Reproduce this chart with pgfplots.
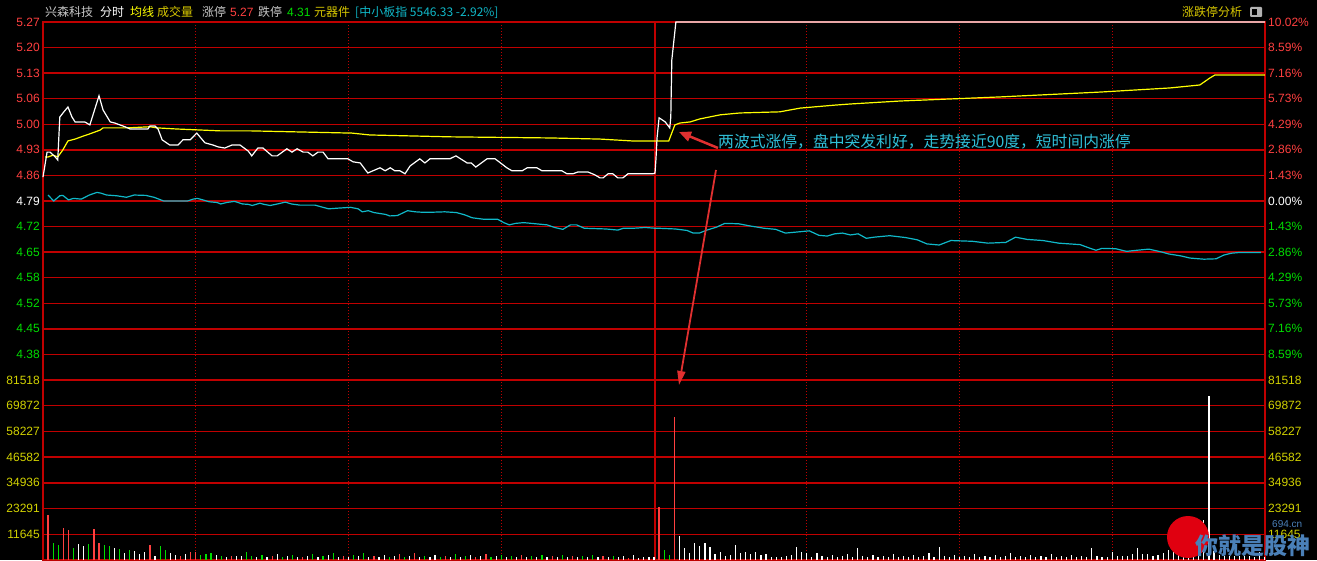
\documentclass[border=0pt]{standalone}
\usepackage{fontspec}
\setmainfont{Noto Sans CJK SC}
\newfontfamily\numfont{Liberation Sans}
\usepackage{pgfplots}
\pgfplotsset{compat=1.18}
\usetikzlibrary{arrows.meta}

\definecolor{bg}{HTML}{000000}
\definecolor{gridred}{HTML}{C00000}
\definecolor{ured}{HTML}{FF4040}
\definecolor{dgreen}{HTML}{00DC00}
\definecolor{vyellow}{HTML}{D2D200}
\definecolor{avgyellow}{HTML}{FFFF00}
\definecolor{idxcyan}{HTML}{10B8C8}
\definecolor{notecyan}{HTML}{30C0D8}
\definecolor{arrowred}{HTML}{E03030}
\definecolor{hdgray}{HTML}{C8C8C8}
\definecolor{hdgold}{HTML}{D8C800}
\definecolor{wmblue}{HTML}{4A80B8}
\definecolor{wmred}{HTML}{E00010}

\newcommand{\tk}{\fontsize{12}{12}\selectfont}

\begin{document}
\begin{tikzpicture}[x=1pt,y=1pt]
\useasboundingbox (0,0) rectangle (1317,560);
\fill[bg] (0,0) rectangle (1317,560);

% header line
\begin{scope}[every node/.style={anchor=west, inner sep=0pt, font=\tk}]
\node[text=hdgray] at (45,548) {兴森科技};
\node[text=white] at (100,548) {分时};
\node[text=avgyellow] at (130,548) {均线};
\node[text=hdgold] at (157,548) {成交量};
\node[text=hdgray] at (202,548) {涨停};
\node[text=ured] at (230,548) {\numfont 5.27};
\node[text=hdgray] at (258,548) {跌停};
\node[text=dgreen] at (287,548) {\numfont 4.31};
\node[text=hdgold] at (314,548) {元器件};
\node[text=idxcyan] at (355,548) {[中小板指 5546.33 -2.92\%]};
\node[text=hdgold] at (1182,548) {涨跌停分析};
\end{scope}
\fill[gray!60, rounded corners=1pt] (1250,553) rectangle (1262,543);
\fill[black] (1252,551) rectangle (1257,545);

% price panel
\begin{axis}[
  at={(43pt,180pt)}, anchor=south west,
  width=1222pt, height=358pt, scale only axis,
  xmin=0, xmax=240, ymin=4.31015, ymax=5.26985,
  axis line style={gridred, line width=1.4pt},
  xtick=\empty,
  ytick={4.31015,4.3787,4.44725,4.5158,4.58435,4.6529,4.72145,4.79,4.85855,4.9271,4.99565,5.0642,5.13275,5.2013,5.26985},
  yticklabels={{},\textcolor{dgreen}{4.38},\textcolor{dgreen}{4.45},\textcolor{dgreen}{4.52},\textcolor{dgreen}{4.58},\textcolor{dgreen}{4.65},\textcolor{dgreen}{4.72},\textcolor{white}{4.79},\textcolor{ured}{4.86},\textcolor{ured}{4.93},\textcolor{ured}{5.00},\textcolor{ured}{5.06},\textcolor{ured}{5.13},\textcolor{ured}{5.20},\textcolor{ured}{5.27}},
  yticklabel style={font=\numfont\tk, inner sep=0pt, xshift=-3pt},
  major tick length=0pt,
  ymajorgrids, grid style={gridred, line width=1.4pt},
  clip=false,
]
\draw[gridred, line width=2.6pt] (axis cs:0,4.79) -- (axis cs:240,4.79);
\draw[gridred, line width=1.4pt] (axis cs:120.2,4.31015) -- (axis cs:120.2,5.26985);
\draw[gridred, line width=1pt, dash pattern=on 1pt off 2pt] (axis cs:30,4.31015) -- (axis cs:30,5.26985);
\draw[gridred, line width=1pt, dash pattern=on 1pt off 2pt] (axis cs:60,4.31015) -- (axis cs:60,5.26985);
\draw[gridred, line width=1pt, dash pattern=on 1pt off 2pt] (axis cs:90,4.31015) -- (axis cs:90,5.26985);
\draw[gridred, line width=1pt, dash pattern=on 1pt off 2pt] (axis cs:150,4.31015) -- (axis cs:150,5.26985);
\draw[gridred, line width=1pt, dash pattern=on 1pt off 2pt] (axis cs:180,4.31015) -- (axis cs:180,5.26985);
\draw[gridred, line width=1pt, dash pattern=on 1pt off 2pt] (axis cs:210,4.31015) -- (axis cs:210,5.26985);

% index (cyan)
\addplot[idxcyan, line width=1.2pt, mark=none] coordinates {
(1.0,4.806) (2.1,4.790) (3.3,4.804) (3.9,4.805) (5.0,4.793) (6.0,4.797) (7.5,4.795) (9.1,4.806) (10.6,4.813) (11.4,4.811) (12.5,4.806) (14.5,4.804) (16.4,4.800) (17.9,4.806) (20.2,4.805) (21.8,4.800) (23.7,4.790) (28.4,4.790) (29.5,4.795) (30.3,4.797) (31.4,4.793) (32.6,4.788) (34.2,4.786) (34.9,4.782) (36.1,4.786) (37.6,4.789) (39.2,4.782) (40.3,4.781) (41.1,4.778) (42.6,4.784) (43.4,4.781) (44.6,4.778) (45.7,4.781) (47.6,4.787) (48.8,4.782) (50.4,4.779) (53.4,4.779) (55.0,4.773) (56.1,4.769) (58.1,4.771) (60.4,4.773) (61.9,4.769) (62.7,4.761) (63.9,4.764) (65.0,4.759) (67.3,4.754) (68.1,4.750) (69.6,4.751) (71.6,4.764) (73.1,4.761) (74.3,4.760) (76.6,4.760) (78.9,4.761) (81.2,4.759) (82.8,4.753) (84.3,4.745) (86.6,4.741) (89.3,4.741) (90.5,4.732) (91.6,4.726) (92.8,4.730) (94.4,4.732) (96.7,4.729) (99.0,4.726) (100.5,4.719) (102.1,4.714) (103.6,4.726) (104.8,4.726) (106.3,4.717) (110.6,4.715) (112.9,4.712) (114.0,4.717) (116.0,4.717) (118.3,4.719) (120.2,4.717) (120.8,4.717) (124.2,4.715) (126.5,4.711) (127.7,4.704) (128.9,4.704) (130.4,4.712) (132.3,4.720) (133.9,4.730) (136.6,4.729) (138.9,4.723) (141.6,4.717) (143.9,4.714) (145.8,4.704) (148.2,4.707) (150.5,4.710) (152.4,4.698) (154.0,4.696) (155.5,4.702) (157.0,4.704) (158.6,4.699) (160.1,4.702) (161.7,4.690) (163.2,4.693) (166.3,4.697) (169.4,4.692) (171.7,4.686) (173.6,4.675) (176.0,4.672) (178.3,4.684) (182.5,4.682) (185.6,4.677) (189.1,4.679) (191.0,4.693) (193.3,4.687) (196.4,4.684) (199.5,4.677) (203.7,4.673) (205.7,4.663) (206.8,4.658) (208.0,4.663) (210.7,4.662) (212.8,4.655) (214.9,4.658) (217.2,4.661) (219.5,4.654) (221.1,4.648) (223.4,4.643) (225.3,4.637) (228.0,4.634) (230.4,4.635) (231.9,4.645) (233.4,4.650) (235.0,4.652) (239.2,4.652)
};

% average price (yellow)
\addplot[avgyellow, line width=1.2pt, mark=none] coordinates {
(0.4,4.908) (1.0,4.908) (2.0,4.913) (2.9,4.908) (3.9,4.927) (4.9,4.951) (6.3,4.956) (7.9,4.964) (9.2,4.970) (11.2,4.980) (11.8,4.986) (16.5,4.986) (21.0,4.989) (22.4,4.986) (26.3,4.983) (34.8,4.978) (40.7,4.978) (60.7,4.972) (64.2,4.967) (79.9,4.962) (99.6,4.959) (109.4,4.956) (115.7,4.951) (122.9,4.951) (124.1,4.994) (125.1,4.999) (127.1,5.002) (129.0,5.010) (133.0,5.021) (136.9,5.026) (144.7,5.029) (148.7,5.039) (155.5,5.047) (158.5,5.050) (168.3,5.058) (188.0,5.069) (207.6,5.082) (221.3,5.093) (227.2,5.101) (229.2,5.120) (230.2,5.128) (240,5.128)
};

% price (white)
\addplot[white, line width=1.2pt, mark=none] coordinates {
(0,4.854) (0.8,4.921) (1.4,4.921) (2.4,4.908) (2.9,4.900) (3.3,5.015) (4.1,5.029) (4.9,5.042) (5.7,5.015) (6.3,5.002) (8.2,5.002) (9.2,4.994) (11.0,5.072) (11.8,5.034) (13.2,5.002) (14.1,4.999) (15.1,4.994) (16.1,4.989) (17.1,4.983) (20.6,4.983) (21.0,4.991) (22.0,4.991) (22.6,4.983) (23.4,4.954) (24.9,4.940) (26.5,4.940) (27.5,4.954) (28.9,4.954) (30.2,4.972) (31.8,4.946) (33.4,4.940) (34.4,4.935) (35.7,4.932) (37.1,4.940) (38.7,4.940) (40.3,4.924) (41.0,4.911) (42.2,4.932) (43.2,4.932) (45.0,4.911) (46.0,4.911) (47.9,4.930) (48.9,4.921) (49.9,4.930) (51.1,4.921) (52.0,4.921) (53.0,4.911) (54.0,4.921) (55.0,4.921) (56.0,4.903) (59.9,4.903) (60.9,4.895) (62.3,4.892) (63.8,4.865) (64.8,4.871) (66.2,4.879) (67.2,4.871) (68.2,4.879) (69.1,4.871) (70.1,4.871) (71.1,4.863) (72.1,4.884) (74.0,4.903) (75.0,4.892) (76.0,4.903) (79.9,4.903) (81.1,4.911) (83.3,4.892) (84.1,4.892) (85.0,4.881) (87.2,4.903) (88.8,4.903) (91.1,4.879) (92.1,4.871) (94.1,4.871) (95.1,4.879) (97.0,4.879) (98.0,4.871) (101.9,4.871) (102.9,4.863) (104.1,4.863) (105.1,4.868) (107.0,4.868) (108.4,4.860) (109.4,4.852) (110.0,4.852) (111.0,4.863) (111.9,4.863) (112.9,4.852) (113.9,4.852) (114.9,4.863) (119.8,4.863) (120.2,4.865) (120.4,4.905) (120.6,4.959) (121.0,5.013) (122.2,5.002) (123.1,4.986) (123.3,5.015) (123.5,5.168) (124.3,5.2698) (240,5.2698)
};
\end{axis}

% price panel, right-hand percent labels
\begin{axis}[
  at={(43pt,180pt)}, anchor=south west,
  width=1222pt, height=358pt, scale only axis,
  xmin=0, xmax=240, ymin=4.31015, ymax=5.26985,
  axis line style={draw=none},
  xtick=\empty, yticklabel pos=right,
  ytick={4.31015,4.3787,4.44725,4.5158,4.58435,4.6529,4.72145,4.79,4.85855,4.9271,4.99565,5.0642,5.13275,5.2013,5.26985},
  yticklabels={{},\textcolor{dgreen}{8.59\%},\textcolor{dgreen}{7.16\%},\textcolor{dgreen}{5.73\%},\textcolor{dgreen}{4.29\%},\textcolor{dgreen}{2.86\%},\textcolor{dgreen}{1.43\%},\textcolor{white}{0.00\%},\textcolor{ured}{1.43\%},\textcolor{ured}{2.86\%},\textcolor{ured}{4.29\%},\textcolor{ured}{5.73\%},\textcolor{ured}{7.16\%},\textcolor{ured}{8.59\%},\textcolor{ured}{10.02\%}},
  yticklabel style={font=\numfont\tk, inner sep=0pt, anchor=west, xshift=3pt},
  major tick length=0pt,
]
\addplot[draw=none] coordinates {(0,4.79)};
\end{axis}

% volume panel
\begin{axis}[
  at={(43pt,0pt)}, anchor=south west,
  width=1222pt, height=180pt, scale only axis,
  xmin=0, xmax=240, ymin=0, ymax=81518,
  axis line style={gridred, line width=1.4pt},
  xtick=\empty,
  ytick={0,11645.4,23290.9,34936.3,46581.7,58227.1,69872.6,81518},
  yticklabels={{},11645,23291,34936,46582,58227,69872,81518},
  scaled y ticks=false,
  yticklabel style={font=\numfont\tk, text=vyellow, inner sep=0pt, xshift=-3pt},
  major tick length=0pt,
  ymajorgrids, grid style={gridred, line width=1.4pt},
]
\draw[gridred, line width=2.6pt] (axis cs:0,81518) -- (axis cs:240,81518);
\draw[gridred, line width=1.4pt] (axis cs:120.2,0) -- (axis cs:120.2,81518);
\draw[gridred, line width=1pt, dash pattern=on 1pt off 2pt] (axis cs:30,0) -- (axis cs:30,81518);
\draw[gridred, line width=1pt, dash pattern=on 1pt off 2pt] (axis cs:60,0) -- (axis cs:60,81518);
\draw[gridred, line width=1pt, dash pattern=on 1pt off 2pt] (axis cs:90,0) -- (axis cs:90,81518);
\draw[gridred, line width=1pt, dash pattern=on 1pt off 2pt] (axis cs:150,0) -- (axis cs:150,81518);
\draw[gridred, line width=1pt, dash pattern=on 1pt off 2pt] (axis cs:180,0) -- (axis cs:180,81518);
\draw[gridred, line width=1pt, dash pattern=on 1pt off 2pt] (axis cs:210,0) -- (axis cs:210,81518);

% up minutes
\addplot[ycomb, ured, line width=1.2pt, mark=none] coordinates {
(1,20380) (4,14490) (5,13590) (10,14040) (11,7700) (21,6790) (27,1810) (29,3620) (30,3620) (37,1810) (45,1810) (51,1360) (59,1810) (65,1810) (70,2720) (73,3170) (79,1810) (85,1360) (87,2720) (94,2260) (100,1810) (104,1810) (110,1810) (115,910) (121,24000) (124,64760)
};
% down minutes
\addplot[ycomb, dgreen, line width=1.2pt, mark=none] coordinates {
(2,7700) (3,6790) (6,5430) (9,7250) (12,6790) (13,6340) (15,4980) (17,4530) (23,6340) (24,4530) (31,2260) (32,2720) (33,3170) (35,1810) (40,3620) (41,1810) (43,2260) (47,1360) (49,2260) (53,2720) (55,1810) (57,3170) (61,2260) (63,3170) (68,1360) (71,1360) (75,1810) (78,1360) (81,2720) (83,1810) (88,1360) (90,2260) (92,1810) (96,1810) (98,2260) (102,2260) (106,1810) (108,2260) (112,1810) (122,4530) (123,2260)
};
% flat minutes
\addplot[ycomb, white, line width=1.2pt, mark=none] coordinates {
(7,7250) (8,6340) (14,5430) (16,3170) (18,4080) (19,2720) (20,3620) (22,1810) (25,3170) (26,2260) (28,2720) (34,2260) (36,1360) (38,1810) (39,1810) (42,1360) (44,1360) (46,2720) (48,1810) (50,1360) (52,1810) (54,1360) (56,2260) (58,1360) (60,1360) (62,1810) (64,1360) (66,1360) (67,2260) (69,1810) (72,1810) (74,1360) (76,1360) (77,2260) (80,1360) (82,1360) (84,2260) (86,1810) (89,1810) (91,1360) (93,1360) (95,1360) (97,1360) (99,1360) (101,1360) (103,1360) (105,1360) (107,1360) (109,1360) (111,1360) (113,1360) (114,1810) (116,2260) (117,910) (118,1360) (119,1360) (120,1360)
(125,10870) (126,5430) (127,3170) (128,7700) (129,6340) (130,7700) (131,5890) (132,2720) (133,3620) (134,1810) (135,2260) (136,6790) (137,3170) (138,3620) (139,2720) (140,3620) (141,2260) (142,2720) (143,1360) (144,1360) (145,1360) (146,1810) (147,2260) (148,5890) (149,3620) (150,3170) (151,1360) (152,3170)
(153,1810) (154,1360) (155,2260) (156,1360) (157,1810) (158,2720) (159,1360) (160,5430) (161,1810) (162,1360) (163,2260) (164,1360) (165,1810) (166,1360) (167,2720) (168,1360) (169,1810) (170,1360) (171,2260) (172,1360) (173,1810) (174,3170) (175,1360) (176,5890) (177,1810) (178,1360) (179,2260) (180,1360) (181,1810) (182,1360) (183,2720) (184,1360) (185,1810) (186,1360) (187,2260) (188,1360) (189,1810) (190,3170) (191,1360) (192,1810) (193,1360) (194,2260) (195,1360) (196,1810) (197,1360) (198,2720) (199,1360) (200,1810) (201,1360) (202,2260) (203,1360) (204,1810) (205,1360) (206,5430) (207,1810)
(208,1360) (209,1360) (210,3620) (211,1810) (212,1810) (213,1810) (214,2720) (215,5430) (216,2720) (217,2720) (218,1810) (219,2260) (220,3170) (221,4530) (222,4530) (223,3620) (224,3170) (225,5890) (226,6790) (227,4980) (228,18000) (229,74280) (230,4080) (231,2260) (232,1810) (233,1810) (234,1810) (235,1810) (236,1810) (237,1810) (238,1360) (239,3620) (240,1360)
};
\end{axis}

% volume panel, right-hand labels
\begin{axis}[
  at={(43pt,0pt)}, anchor=south west,
  width=1222pt, height=180pt, scale only axis,
  xmin=0, xmax=240, ymin=0, ymax=81518,
  axis line style={draw=none},
  xtick=\empty, yticklabel pos=right,
  ytick={0,11645.4,23290.9,34936.3,46581.7,58227.1,69872.6,81518},
  yticklabels={{},11645,23291,34936,46582,58227,69872,81518},
  scaled y ticks=false,
  yticklabel style={font=\numfont\tk, text=vyellow, inner sep=0pt, anchor=west, xshift=3pt},
  major tick length=0pt,
]
\addplot[draw=none] coordinates {(0,0)};
\end{axis}

% annotation
\node[anchor=west, inner sep=0pt, text=notecyan, font=\fontsize{15.8}{16}\selectfont] at (718,418) {两波式涨停，盘中突发利好，走势接近90度，短时间内涨停};
\draw[arrowred, line width=2.5pt, -{Triangle[length=12pt,width=10pt]}] (718,412) -- (679,428);
\draw[arrowred, line width=1.8pt, -{Triangle[length=14pt,width=8pt]}] (716,390) -- (679,175);

% watermark
\fill[wmred] (1188,23) circle (21);
\node[anchor=west, inner sep=0pt, text=wmblue, font=\fontsize{23}{23}\selectfont\bfseries] at (1195,14) {你就是股神};
\node[anchor=west, inner sep=0pt, text=wmblue, font=\numfont\fontsize{10}{10}\selectfont] at (1272,36) {694.cn};
\end{tikzpicture}
\end{document}
